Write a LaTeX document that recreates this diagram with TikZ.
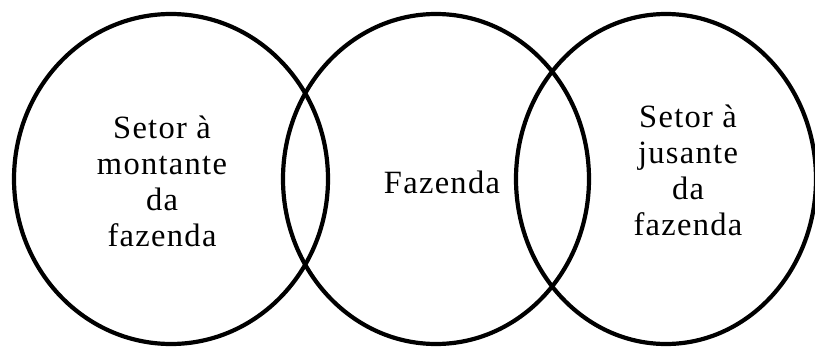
\documentclass[tikz,border=0pt]{standalone}
\usepackage{fontspec}
\setmainfont[LetterSpace=4]{Liberation Serif}
\begin{document}
\begin{tikzpicture}[x=1pt,y=1pt,
  ring/.style={draw=black,line width=4.2pt},
  lbl/.style={align=center,inner sep=0pt,font=\fontsize{32.5}{35.8}\selectfont}]
\useasboundingbox (0,0) rectangle (815,349);
\draw[ring] (171,170) ellipse [x radius=157,y radius=165];
\draw[ring] (436,170) ellipse [x radius=153,y radius=165];
\draw[ring] (666,170) ellipse [x radius=150,y radius=165];
\node[lbl,anchor=north] (left) at (162,233) {Setor à\\montante\\da\\fazenda};
\node[lbl,anchor=base] (mid) at (442,156) {Fazenda};
\node[lbl,anchor=north] (right) at (688,244) {Setor à\\jusante\\da\\fazenda};
\end{tikzpicture}
\end{document}
